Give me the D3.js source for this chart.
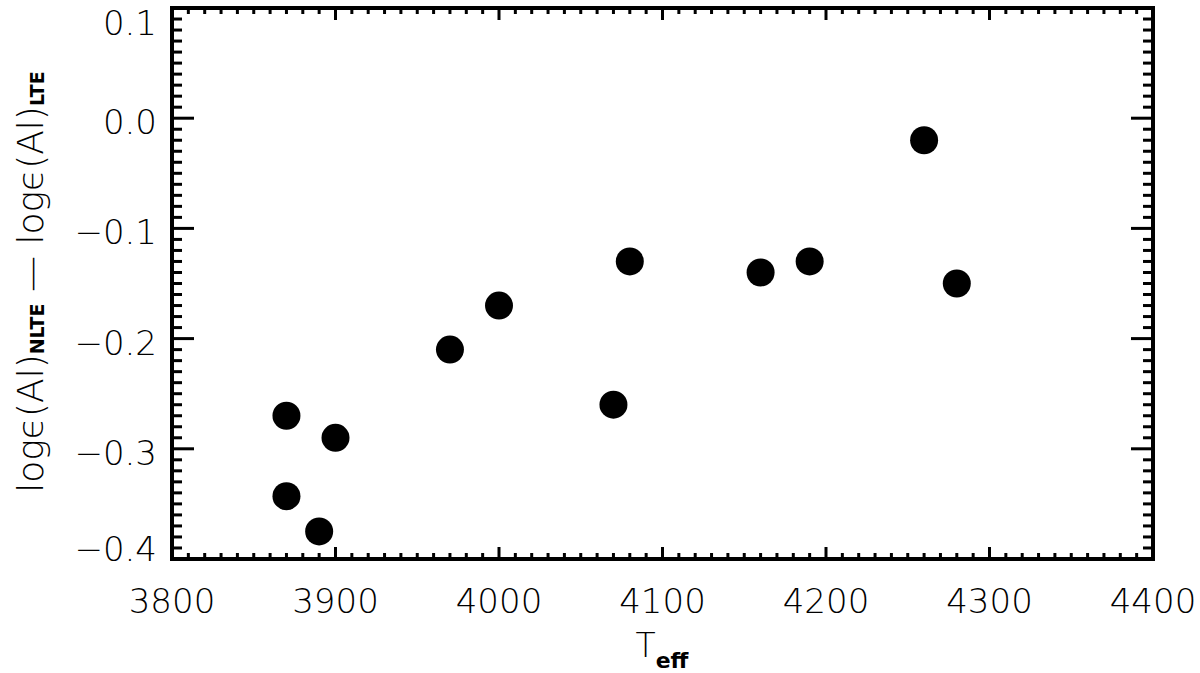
<!DOCTYPE html>
<html><head><meta charset="utf-8">
<script src="https://cdn.jsdelivr.net/npm/d3@7"></script>
<style>body{margin:0;background:#fff}svg text{font-family:"DejaVu Sans",sans-serif;fill:#000}</style>
</head><body><svg id="c" width="1200" height="673"></svg>
<script>
const teff = [3870, 3870, 3890, 3900, 3970, 4000, 4070, 4080, 4160, 4190, 4260, 4280];
const dAl  = [-0.27, -0.343, -0.375, -0.29, -0.21, -0.17, -0.26, -0.13, -0.14, -0.13, -0.02, -0.15];
const xTicks = [3800, 3900, 4000, 4100, 4200, 4300, 4400];
const yTicks = [-0.4, -0.3, -0.2, -0.1, 0.0, 0.1];

const svg = d3.select("#c");
const L = 172, R = 1153, T = 8, B = 559;
const x = d3.scaleLinear().domain([3800, 4400]).range([L, R]);
const y = d3.scaleLinear().domain([-0.4, 0.1]).range([B, T]);

const g = svg.append("g");
const minorX = d3.range(3800, 4401, 10);
const minorY = d3.range(-40, 11, 1).map(v => v / 100);
const isMajX = v => v % 100 === 0;
const isMajY = v => Math.abs(Math.round(v * 10) - v * 10) < 1e-6;

minorX.forEach(v => {
  const len = isMajX(v) ? 12 : 6;
  g.append("line").attr("x1", x(v)).attr("x2", x(v)).attr("y1", B).attr("y2", B - len).attr("stroke", "#000").attr("stroke-width", 3);
  g.append("line").attr("x1", x(v)).attr("x2", x(v)).attr("y1", T).attr("y2", T + len).attr("stroke", "#000").attr("stroke-width", 3);
});
minorY.forEach(v => {
  const len = isMajY(v) ? 22 : 10;
  g.append("line").attr("x1", L).attr("x2", L + len).attr("y1", y(v)).attr("y2", y(v)).attr("stroke", "#000").attr("stroke-width", 3);
  g.append("line").attr("x1", R).attr("x2", R - len).attr("y1", y(v)).attr("y2", y(v)).attr("stroke", "#000").attr("stroke-width", 3);
});
g.append("rect").attr("x", L).attr("y", T).attr("width", R - L).attr("height", B - T)
  .attr("fill", "none").attr("stroke", "#000").attr("stroke-width", 4);

const FW = 200;
xTicks.forEach(v => {
  svg.append("text").attr("x", x(v)).attr("y", 613).attr("text-anchor", "middle")
    .attr("font-size", 34).attr("font-weight", FW).text(v);
});
const fmt = v => (v < 0 ? "\u2212" : "") + Math.abs(v).toFixed(1);
yTicks.forEach(v => {
  const cy = Math.max(23, Math.min(549, y(v) + 4));
  svg.append("text").attr("x", 157).attr("y", cy + 12).attr("text-anchor", "end")
    .attr("font-size", 34).attr("font-weight", FW).text(fmt(v));
});

const xt = svg.append("text").attr("x", 662).attr("y", 657).attr("text-anchor", "middle")
  .attr("font-size", 33).attr("font-weight", FW);
xt.append("tspan").text("T");
xt.append("tspan").attr("font-size", 22).attr("font-weight", "bold").attr("dy", 11).text("eff");

const yt = svg.append("text").attr("transform", "translate(43,282) rotate(-90)").attr("text-anchor", "middle")
  .attr("font-size", 36).attr("font-weight", FW);
yt.append("tspan").text("log\u03F5(Al)");
yt.append("tspan").attr("font-size", 19).attr("font-weight", "bold").attr("dy", 1).text("NLTE");
yt.append("tspan").attr("dy", -1).text("  \u2014  log\u03F5(Al)");
yt.append("tspan").attr("font-size", 19).attr("font-weight", "bold").attr("dy", 1).text("LTE");

svg.append("g").selectAll("circle").data(teff.map((t, i) => [t, dAl[i]])).join("circle")
  .attr("cx", d => x(d[0])).attr("cy", d => y(d[1])).attr("r", 14).attr("fill", "#000");
</script></body></html>
